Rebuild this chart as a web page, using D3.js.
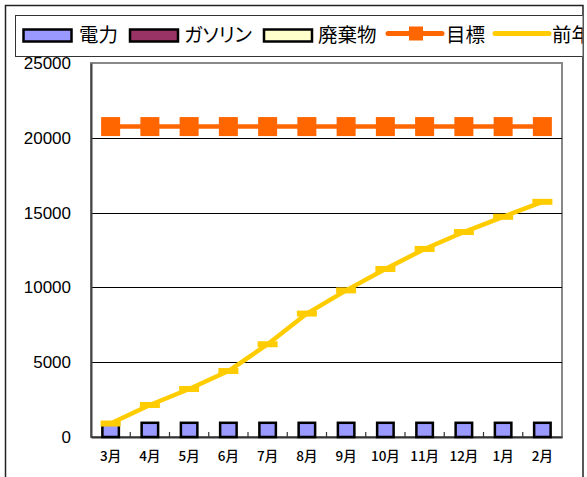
<!DOCTYPE html>
<html><head><meta charset="utf-8">
<script src="https://cdn.jsdelivr.net/npm/d3@7"></script>
<style>
html,body{margin:0;padding:0;background:#fff;}
svg{display:block;}
.leg{font-family:"Noto Sans CJK JP",sans-serif;font-size:19.5px;font-feature-settings:"palt";}
.xl{font-family:"Noto Sans CJK JP",sans-serif;font-size:13.5px;font-weight:500;}
.yl{font-family:"Liberation Sans",Arial,sans-serif;font-size:17px;}
</style></head>
<body>
<svg id="c" width="587" height="477"></svg>
<script>
const months = ["3月","4月","5月","6月","7月","8月","9月","10月","11月","12月","1月","2月"];
const electricity = [950,950,950,950,950,950,950,950,950,950,950,950];
const gasoline = [0,0,0,0,0,0,0,0,0,0,0,0];
const waste = [0,0,0,0,0,0,0,0,0,0,0,0];
const target = [20750,20750,20750,20750,20750,20750,20750,20750,20750,20750,20750,20750];
const prevYear = [900,2140,3210,4410,6200,8250,9800,11230,12570,13700,14720,15720];
const yTicks = [0,5000,10000,15000,20000,25000];
const seriesNames = ["電力","ガソリン","廃棄物","目標","前年"];
const colors = {elec:"#9999FF", gas:"#993366", waste:"#FFFFCC", target:"#FF6600", prev:"#FFCC00"};

const svg = d3.select("#c");
const L = 91, R = 562, T = 63, B = 437;
const x = d3.scaleBand().domain(months).range([L, R]).padding(0);
const y = d3.scaleLinear().domain([0, 25000]).range([B, T]);

// outer chart border
svg.append("rect").attr("x",5.5).attr("y",5.5).attr("width",577.5).attr("height",480)
  .attr("fill","#fff").attr("stroke","#222").attr("stroke-width",1.5);

// plot area
svg.append("rect").attr("x",L).attr("y",T).attr("width",R-L).attr("height",B-T)
  .attr("fill","#fff").attr("stroke","#888").attr("stroke-width",2);

// gridlines
svg.append("g").selectAll("line").data(yTicks.filter(d=>d>0 && d<25000)).join("line")
  .attr("x1",L).attr("x2",R).attr("y1",d=>Math.round(y(d))+0.5).attr("y2",d=>Math.round(y(d))+0.5)
  .attr("stroke","#000").attr("stroke-width",1);

// y axis
const yAxis = d3.axisLeft(y).tickValues(yTicks).tickSize(0).tickPadding(20).tickFormat(d3.format("d"));
const yg = svg.append("g").attr("transform",`translate(${L},0)`).call(yAxis);
yg.select(".domain").attr("stroke","#444").attr("stroke-width",2);
yg.selectAll("text").attr("class","yl").attr("fill","#000").attr("font-size",null).attr("font-family",null);

// x axis
const xAxis = d3.axisBottom(x).tickSize(0).tickPadding(14);
const xg = svg.append("g").attr("transform",`translate(0,${B})`).call(xAxis);
xg.select(".domain").attr("stroke","#333").attr("stroke-width",2);
xg.selectAll("text").attr("class","xl").attr("fill","#000").attr("font-size",null).attr("font-family",null);
// tick marks at category boundaries, pointing up
svg.append("g").selectAll("line").data(months.slice(1)).join("line")
  .attr("x1",d=>x(d)).attr("x2",d=>x(d)).attr("y1",B-5).attr("y2",B)
  .attr("stroke","#333").attr("stroke-width",1.2);

// stacked bars
const bw = x.bandwidth()*0.42;
const stackData = months.map((m,i)=>({m, elec:electricity[i], gas:gasoline[i], waste:waste[i]}));
const stack = d3.stack().keys(["elec","gas","waste"])(stackData);
svg.append("g").selectAll("g").data(stack).join("g")
  .attr("fill",d=>colors[d.key])
  .selectAll("rect").data(d=>d.filter(v=>v[1]-v[0]>0)).join("rect")
  .attr("x",d=>x(d.data.m)+x.bandwidth()/2-bw/2)
  .attr("width",bw)
  .attr("y",d=>y(d[1]))
  .attr("height",d=>y(d[0])-y(d[1]))
  .attr("stroke","#000").attr("stroke-width",2.5);

const cx = m => x(m)+x.bandwidth()/2;
// target line
const lineT = d3.line().x((d,i)=>cx(months[i])).y(d=>y(d));
svg.append("path").datum(target).attr("d",lineT).attr("fill","none")
  .attr("stroke",colors.target).attr("stroke-width",4.5);
svg.append("g").selectAll("rect").data(target).join("rect")
  .attr("x",(d,i)=>cx(months[i])-9.5).attr("y",d=>y(d)-9.5)
  .attr("width",19).attr("height",19).attr("fill",colors.target);

// previous year line
svg.append("path").datum(prevYear).attr("d",lineT).attr("fill","none")
  .attr("stroke",colors.prev).attr("stroke-width",4.5).attr("stroke-linejoin","round");
svg.append("g").selectAll("rect").data(prevYear).join("rect")
  .attr("x",(d,i)=>cx(months[i])-10).attr("y",d=>y(d)-3)
  .attr("width",20).attr("height",6).attr("fill",colors.prev);

// legend (clipped to chart area)
svg.append("clipPath").attr("id","clip").append("rect").attr("x",0).attr("y",0).attr("width",582.5).attr("height",477);
const lg = svg.append("g").attr("clip-path","url(#clip)");
lg.append("rect").attr("x",15.5).attr("y",15.5).attr("width",600).attr("height",41)
  .attr("fill","#fff").attr("stroke","#333").attr("stroke-width",1);
const swX = [23.5,130,264];
const swC = [colors.elec, colors.gas, colors.waste];
const txX = [79,184,318,446,552];
[0,1,2].forEach(i=>{
  lg.append("rect").attr("x",swX[i]).attr("y",29.5).attr("width",48).attr("height",12)
    .attr("fill",swC[i]).attr("stroke","#000").attr("stroke-width",2.5);
});
lg.append("line").attr("x1",388).attr("x2",442).attr("y1",33.5).attr("y2",33.5)
  .attr("stroke",colors.target).attr("stroke-width",5).attr("stroke-linecap","round");
lg.append("rect").attr("x",409).attr("y",26.5).attr("width",14).attr("height",14).attr("fill",colors.target);
lg.append("line").attr("x1",495).attr("x2",549).attr("y1",33.5).attr("y2",33.5)
  .attr("stroke",colors.prev).attr("stroke-width",5).attr("stroke-linecap","round");
seriesNames.forEach((n,i)=>{
  lg.append("text").attr("class","leg").attr("x",txX[i]).attr("y",42).attr("fill","#000").text(n);
});
</script>
</body></html>
